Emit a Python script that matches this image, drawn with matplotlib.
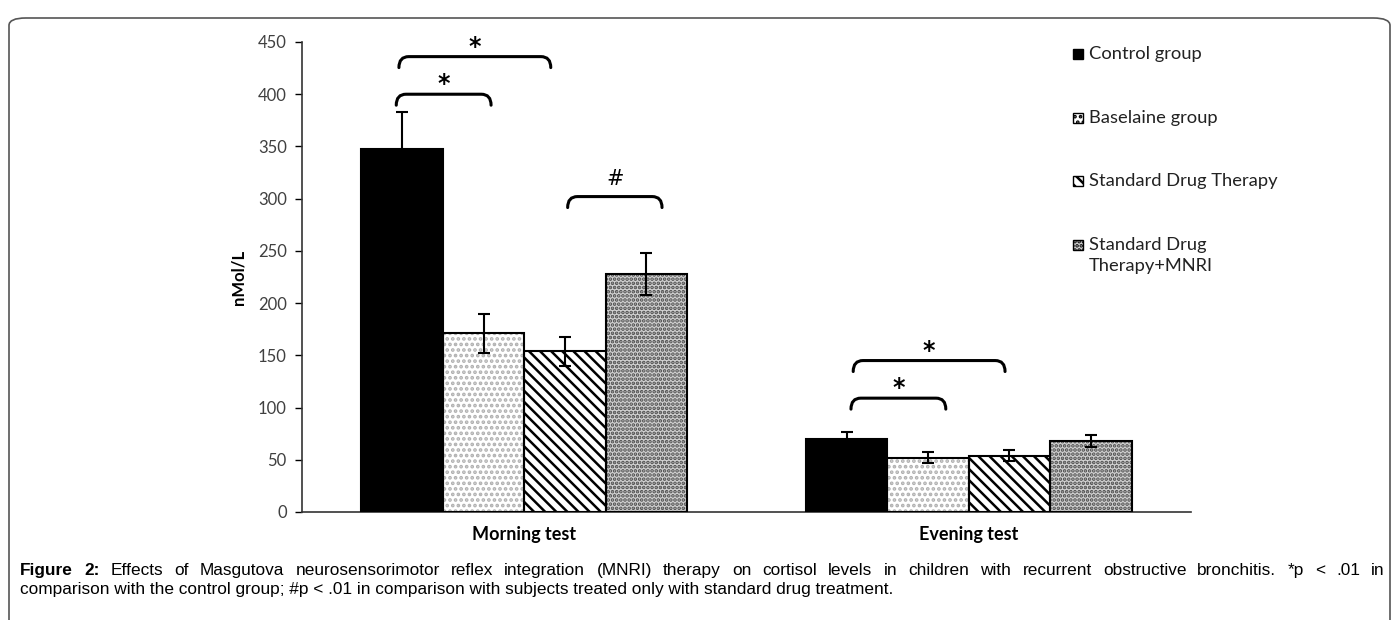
import matplotlib
matplotlib.use("Agg")
import matplotlib.pyplot as plt
from matplotlib.patches import Rectangle, FancyBboxPatch, PathPatch
from matplotlib.path import Path

plt.rcParams['font.family'] = ['Lato', 'DejaVu Sans']
plt.rcParams['hatch.linewidth'] = 1.8

# data
groups = ['Morning test', 'Evening test']
series = ['Control group', 'Baselaine group', 'Standard Drug Therapy', 'Standard Drug\nTherapy+MNRI']
values = [[348, 171, 154, 228],
          [70, 52, 54, 68]]
errors = [[35, 19, 14, 20],
          [7, 5, 5, 6]]
yticks = list(range(0, 451, 50))

# significance brackets: group, from series, to series, height, label
brackets = [(0, 0, 1, 400, '*'),
            (0, 0, 2, 436, '*'),
            (0, 2, 3, 302, '#'),
            (1, 0, 1, 109, '*'),
            (1, 0, 2, 145, '*')]
bracket_dx = [(-0.013, 0.017), (-0.007, -0.032), (0.006, 0.035), (0.010, 0.040), (0.015, -0.010)]

caption_bold = 'Figure 2:'
caption_1 = ('Effects of Masgutova neurosensorimotor reflex integration (MNRI) therapy on cortisol levels '
             'in children with recurrent obstructive bronchitis. *p < .01 in')
caption_2 = 'comparison with the control group; #p < .01 in comparison with subjects treated only with standard drug treatment.'

# styles
faces = ['black', 'white', 'white', '#d0d0d0']
hatches = [None, '...', '\\\\\\', '....']
hatch_cols = ['black', '#b0b0b0', 'black', '#4a4a4a']

W, H = 1398, 620
fig = plt.figure(figsize=(W / 100, H / 100), dpi=100)
ax = fig.add_axes([302 / W, 1 - 512 / H, 889 / W, 470 / H])

bw = 0.1833
def xpos(g, s):
    return g + (s - 1.5) * bw

for s in range(len(series)):
    xs = [xpos(g, s) for g in range(len(groups))]
    vs = [values[g][s] for g in range(len(groups))]
    es = [errors[g][s] for g in range(len(groups))]
    if hatches[s]:
        ax.bar(xs, vs, bw, color=faces[s], edgecolor=hatch_cols[s], hatch=hatches[s], linewidth=0, zorder=2)
        ax.bar(xs, vs, bw, fill=False, edgecolor='black', linewidth=1.5, zorder=3)
    else:
        ax.bar(xs, vs, bw, color=faces[s], edgecolor='black', linewidth=1.5, zorder=3)
    ax.errorbar(xs, vs, yerr=es, fmt='none', ecolor='black', elinewidth=1.5, capsize=4, capthick=1.5, zorder=4)

# brackets
r, h = 0.022, 10.5
for (g, a, b, y, lab), (d0, d1) in zip(brackets, bracket_dx):
    x0 = xpos(g, a) + d0
    x1 = xpos(g, b) + d1
    verts = [(x0, y - h), (x0, y), (x0 + r, y), (x1 - r, y), (x1, y), (x1, y - h)]
    codes = [Path.MOVETO, Path.CURVE3, Path.CURVE3, Path.LINETO, Path.CURVE3, Path.CURVE3]
    ax.add_patch(PathPatch(Path(verts, codes), fill=False, lw=2.2, color='black', capstyle='round', zorder=5))
    if lab == '*':
        ax.text((x0 + x1) / 2, y - 2, lab, ha='center', va='bottom', fontsize=17, fontweight='bold', family='DejaVu Sans')
    else:
        ax.text((x0 + x1) / 2, y + 7, lab, ha='center', va='bottom', fontsize=15, family='DejaVu Sans')

ax.set_xlim(-0.5, 1.5)
ax.set_ylim(0, 450)
ax.set_yticks(yticks)
ax.set_xticks(range(len(groups)))
ax.set_xticklabels(groups, fontsize=13, fontweight='bold')
ax.tick_params(axis='x', length=0, pad=10)
ax.tick_params(axis='y', direction='out', length=5, width=1, labelsize=12, labelcolor='#404040', pad=6)
for sp in ['top', 'right']:
    ax.spines[sp].set_visible(False)
for sp in ['left', 'bottom']:
    ax.spines[sp].set_color('#333333')
    ax.spines[sp].set_linewidth(1.2)
ax.set_ylabel('nMol/L', fontsize=12, fontweight='bold', labelpad=8)

# legend drawn by hand
for s, name in enumerate(series):
    yc = 1 - (54 + s * 63.7) / H
    box = Rectangle((1073 / W, yc - 5 / H), 10 / W, 10 / H, transform=fig.transFigure,
                    facecolor=faces[s], edgecolor='black', linewidth=1, hatch=hatches[s])
    fig.add_artist(box)
    fig.text(1089 / W, yc + 8 / H, name, fontsize=13.2, va='top', ha='left', color='#222222', linespacing=1.35)

# outer rounded frame
fig.add_artist(FancyBboxPatch((9 / W, -0.02), 1381 / W, (611 - 9) / H + 0.02,
                              boxstyle='round,pad=0,rounding_size=0.012', transform=fig.transFigure,
                              fill=False, edgecolor='#555555', linewidth=1.2))

# caption, first line justified between left and right margins
cap_font = ['Liberation Sans', 'DejaVu Sans']
cap_size = 12.4
left, right = 20, 1385
fig.canvas.draw()
rend = fig.canvas.get_renderer()
words = [(w, 'bold') for w in caption_bold.split()] + [(w, 'normal') for w in caption_1.split()]
arts = []
total = 0
for w, wt in words:
    t = fig.text(0, 1 - 575 / H, w, fontsize=cap_size, fontweight=wt, family=cap_font, va='baseline')
    ext = t.get_window_extent(renderer=rend).width
    arts.append((t, ext))
    total += ext
gap = (right - left - total) / (len(words) - 1)
x = left
for t, ext in arts:
    t.set_x(x / W)
    x += ext + gap
fig.text(left / W, 1 - 594 / H, caption_2, fontsize=cap_size, family=cap_font, va='baseline')

fig.savefig('out.png', dpi=100)
